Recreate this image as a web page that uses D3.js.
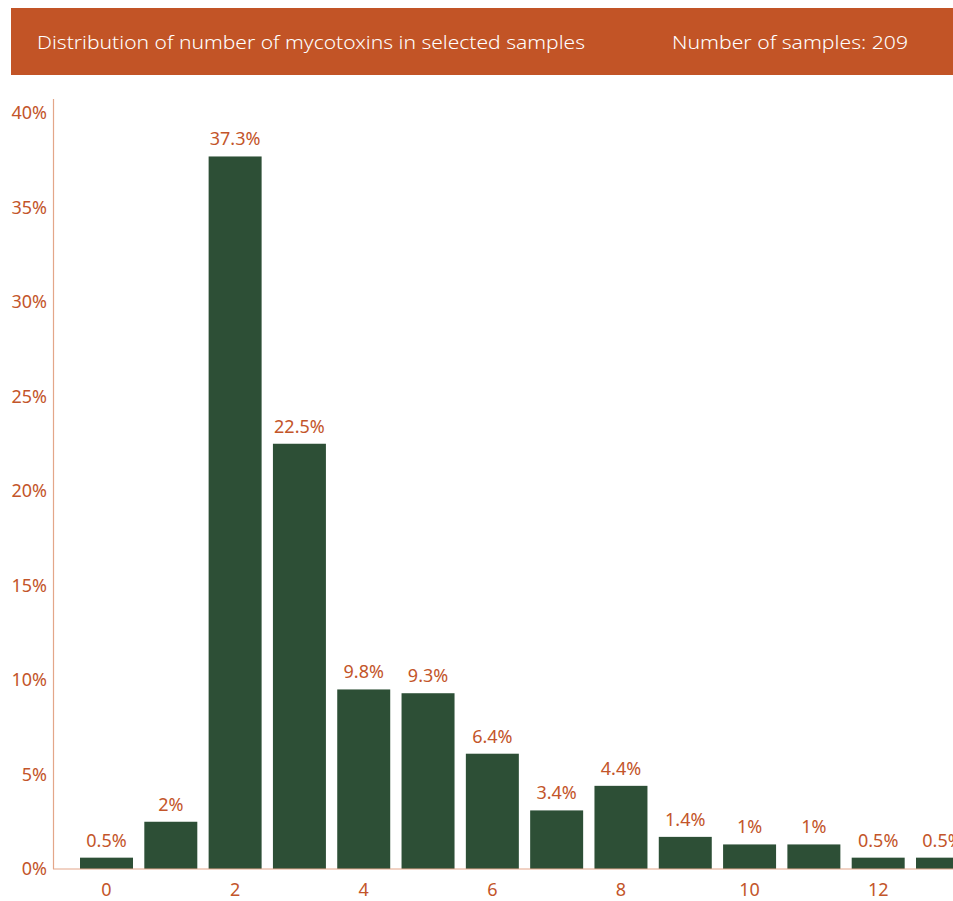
<!DOCTYPE html>
<html>
<head>
<meta charset="utf-8">
<script src="https://cdn.jsdelivr.net/npm/d3@7"></script>
<style>
  body { margin: 0; background: #fff; }
  svg { display: block; font-family: "Noto Sans", Roboto, sans-serif; }
</style>
</head>
<body>
<div id="chart"></div>
<script>
// data
const categories = [0, 1, 2, 3, 4, 5, 6, 7, 8, 9, 10, 11, 12, 13];
const barValues = [0.6, 2.5, 37.7, 22.5, 9.5, 9.3, 6.1, 3.1, 4.4, 1.7, 1.3, 1.3, 0.6, 0.6];
const barLabels = ["0.5%", "2%", "37.3%", "22.5%", "9.8%", "9.3%", "6.4%", "3.4%", "4.4%", "1.4%", "1%", "1%", "0.5%", "0.5%"];
const yTicks = [0, 5, 10, 15, 20, 25, 30, 35, 40];
const xTicks = [0, 2, 4, 6, 8, 10, 12];
const title = "Distribution of number of mycotoxins in selected samples";
const subtitle = "Number of samples: 209";

const width = 953, height = 901;
const orange = "#c3552a";
const axisColor = "#e3a689";
const barColor = "#2d4f36";
const labelFont = "Noto Sans, Roboto, sans-serif";

const svg = d3.select("#chart")
  .append("svg")
    .attr("width", width)
    .attr("height", height);

// header band
svg.append("rect")
  .attr("x", 11).attr("y", 8)
  .attr("width", width - 11).attr("height", 67)
  .attr("fill", "#c25426");
svg.append("text")
  .attr("x", 37).attr("y", 49)
  .attr("fill", "#fff")
  .attr("font-size", 19)
  .attr("font-weight", 300)
  .attr("textLength", 548)
  .attr("lengthAdjust", "spacingAndGlyphs")
  .text(title);
svg.append("text")
  .attr("x", 672).attr("y", 49)
  .attr("fill", "#fff")
  .attr("font-size", 19)
  .attr("font-weight", 300)
  .attr("textLength", 236)
  .attr("lengthAdjust", "spacingAndGlyphs")
  .text(subtitle);

// scales
const x = d3.scaleBand()
  .domain(categories)
  .range([53, 996])
  .paddingInner(0.176)
  .paddingOuter(0.42);

const y = d3.scaleLinear()
  .domain([0, 40])
  .range([869, 113]);

// bars
svg.selectAll("rect.bar")
  .data(categories)
  .join("rect")
    .attr("class", "bar")
    .attr("x", d => x(d))
    .attr("y", (d, i) => y(barValues[i]))
    .attr("width", x.bandwidth())
    .attr("height", (d, i) => y(0) - y(barValues[i]))
    .attr("fill", barColor);

// bar labels
svg.selectAll("text.lbl")
  .data(categories)
  .join("text")
    .attr("class", "lbl")
    .attr("x", d => x(d) + x.bandwidth() / 2)
    .attr("y", (d, i) => y(barValues[i]) - 11)
    .attr("text-anchor", "middle")
    .attr("fill", orange)
    .attr("font-size", 18)
    .text((d, i) => barLabels[i]);

// Y axis
const yAxis = svg.append("g")
  .attr("transform", "translate(53,0)")
  .call(d3.axisLeft(y).tickValues(yTicks).tickSize(0).tickPadding(6).tickFormat(d => d + "%"));
yAxis.select(".domain").remove();
yAxis.selectAll("text").attr("fill", orange).attr("font-size", 18).attr("font-family", labelFont);
svg.append("line")
  .attr("x1", 53.5).attr("x2", 53.5)
  .attr("y1", 99).attr("y2", 869)
  .attr("stroke", axisColor).attr("stroke-width", 1.2);

// X axis
const xAxis = svg.append("g")
  .attr("transform", "translate(0,869)")
  .call(d3.axisBottom(x).tickValues(xTicks).tickSize(0).tickPadding(14));
xAxis.select(".domain").remove();
xAxis.selectAll("text").attr("fill", orange).attr("font-size", 18).attr("font-family", labelFont);
svg.append("line")
  .attr("x1", 53).attr("x2", width)
  .attr("y1", 869).attr("y2", 869)
  .attr("stroke", axisColor).attr("stroke-width", 1.2);
</script>
</body>
</html>
